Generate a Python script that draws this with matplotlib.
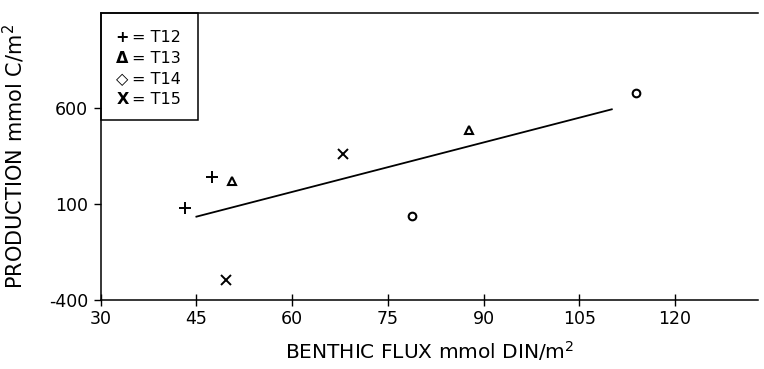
import matplotlib
matplotlib.use("Agg")
import matplotlib.pyplot as plt
from matplotlib.patches import Rectangle

plt.rcParams['font.family'] = ['DejaVu Sans']

# Data
t12_x = [43.2, 47.4]
t12_y = [79, 242]
t13_x = [50.6, 87.8]
t13_y = [221, 485]
t14_x = [78.8, 113.9]
t14_y = [39, 676]
t15_x = [67.9, 49.6]
t15_y = [360, -296]
fit_x = [45.0, 110.1]
fit_y = [34, 593]

x_ticks = [30, 45, 60, 75, 90, 105, 120]
y_ticks = [-400, 100, 600]
y_ticklabels = ['-400', '100', '600']
legend_symbols = ['+', '\u0394', '\u25c7', 'X']
legend_labels = ['T12', 'T13', 'T14', 'T15']

fig = plt.figure(figsize=(7.64, 3.69), dpi=100)
ax = fig.add_axes([0.1318, 0.187, 0.8602, 0.778])

k = 'black'
ax.plot(fit_x, fit_y, color=k, lw=1.3)
ax.plot(t12_x, t12_y, ls='none', marker='+', ms=8, mew=1.4, color=k)
ax.plot(t13_x, t13_y, ls='none', marker='^', ms=5.5, mew=1.5, mfc='white', mec=k)
ax.plot(t14_x, t14_y, ls='none', marker='o', ms=5.5, mew=1.5, mfc='white', mec=k)
ax.plot(t15_x, t15_y, ls='none', marker='x', ms=7, mew=1.4, color=k)

ax.set_xlim(30, 133)
ax.set_ylim(-400, 1095)
ax.set_xticks(x_ticks)
ax.set_yticks(y_ticks)
ax.set_yticklabels(y_ticklabels)
ax.tick_params(axis='x', direction='inout', length=8, width=1, labelsize=12.5, pad=3)
ax.tick_params(axis='y', direction='out', length=5, width=1, labelsize=12.5, pad=4)
ax.spines['right'].set_visible(False)
for s in ['left', 'bottom', 'top']:
    ax.spines[s].set_linewidth(1.1)

ax.set_xlabel('BENTHIC FLUX mmol DIN/m$^{2}$', fontsize=14.5)
ax.set_ylabel('PRODUCTION mmol C/m$^{2}$', fontsize=15)
ax.xaxis.set_label_coords(0.5, -0.135)
ax.yaxis.set_label_coords(-0.112, 0.5)

# legend box
ax.add_patch(Rectangle((0, 0.627), 0.148, 0.373, transform=ax.transAxes,
                       fill=False, lw=1.1, ec=k, clip_on=False))
rows_y = [0.913, 0.840, 0.767, 0.697]
for sym, lab, yy in zip(legend_symbols, legend_labels, rows_y):
    ax.text(0.033, yy, sym, transform=ax.transAxes, ha='center', va='center',
            fontsize=11.5, fontweight='bold')
    ax.text(0.048, yy, '= ' + lab, transform=ax.transAxes, ha='left', va='center',
            fontsize=11.5)

fig.savefig('out.png', dpi=100)
